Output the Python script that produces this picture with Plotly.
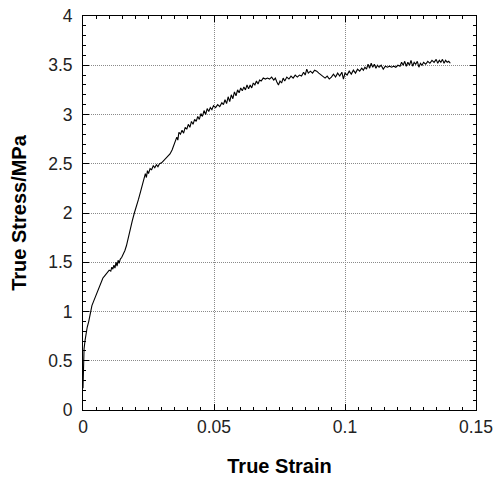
import plotly.graph_objects as go

strain = [
    0.0000, 0.0001, 0.0002, 0.0004, 0.0008, 0.0012, 0.0016, 0.0022, 0.0028, 0.0034,
    0.0040, 0.0046, 0.0052, 0.0058, 0.0064, 0.0070, 0.0076, 0.0082, 0.0088, 0.0094,
    0.0100, 0.0106, 0.0110, 0.0114, 0.0118, 0.0122, 0.0126, 0.0130, 0.0134, 0.0138,
    0.0142, 0.0148, 0.0154, 0.0160, 0.0166, 0.0172, 0.0180, 0.0188, 0.0196, 0.0204,
    0.0212, 0.0220, 0.0228, 0.0234, 0.0238, 0.0242, 0.0246, 0.0250, 0.0256, 0.0262,
    0.0268, 0.0274, 0.0280, 0.0286, 0.0292, 0.0300, 0.0308, 0.0316, 0.0324, 0.0332,
    0.0340, 0.0346, 0.0352, 0.0358, 0.0362, 0.0366, 0.0372, 0.0378, 0.0384, 0.0390,
    0.0396, 0.0402, 0.0408, 0.0414, 0.0420, 0.0426, 0.0432, 0.0438, 0.0444, 0.0450,
    0.0456, 0.0462, 0.0468, 0.0474, 0.0480, 0.0486, 0.0492, 0.0498, 0.0506, 0.0514,
    0.0522, 0.0530, 0.0536, 0.0542, 0.0548, 0.0554, 0.0560, 0.0566, 0.0572, 0.0578,
    0.0584, 0.0590, 0.0596, 0.0602, 0.0608, 0.0614, 0.0620, 0.0626, 0.0632, 0.0638,
    0.0644, 0.0650, 0.0656, 0.0662, 0.0668, 0.0674, 0.0680, 0.0688, 0.0696, 0.0704,
    0.0712, 0.0720, 0.0728, 0.0734, 0.0740, 0.0746, 0.0752, 0.0758, 0.0764, 0.0770,
    0.0778, 0.0786, 0.0794, 0.0802, 0.0810, 0.0818, 0.0826, 0.0834, 0.0842, 0.0848,
    0.0854, 0.0860, 0.0868, 0.0876, 0.0884, 0.0892, 0.0900, 0.0908, 0.0916, 0.0924,
    0.0932, 0.0940, 0.0948, 0.0956, 0.0964, 0.0972, 0.0980, 0.0988, 0.0994, 0.1000,
    0.1008, 0.1016, 0.1024, 0.1032, 0.1040, 0.1048, 0.1056, 0.1064, 0.1070, 0.1076,
    0.1082, 0.1088, 0.1094, 0.1100, 0.1106, 0.1112, 0.1118, 0.1124, 0.1130, 0.1138,
    0.1146, 0.1154, 0.1162, 0.1170, 0.1178, 0.1186, 0.1194, 0.1202, 0.1210, 0.1216,
    0.1222, 0.1228, 0.1234, 0.1240, 0.1246, 0.1252, 0.1258, 0.1264, 0.1270, 0.1276,
    0.1282, 0.1288, 0.1294, 0.1300, 0.1308, 0.1316, 0.1324, 0.1332, 0.1340, 0.1348,
    0.1354, 0.1360, 0.1366, 0.1372, 0.1378, 0.1384, 0.1390, 0.1396, 0.1402,
]
stress = [
    0.22, 0.40, 0.52, 0.62, 0.71, 0.78, 0.84, 0.90, 0.99, 1.06,
    1.10, 1.14, 1.19, 1.24, 1.28, 1.30, 1.34, 1.36, 1.38, 1.40,
    1.42, 1.41, 1.45, 1.43, 1.47, 1.44, 1.50, 1.46, 1.52, 1.49,
    1.53, 1.55, 1.58, 1.62, 1.67, 1.73, 1.82, 1.92, 2.00, 2.06,
    2.14, 2.22, 2.29, 2.34, 2.40, 2.36, 2.43, 2.40, 2.45, 2.44,
    2.48, 2.46, 2.49, 2.47, 2.50, 2.51, 2.53, 2.55, 2.58, 2.60,
    2.64, 2.68, 2.72, 2.77, 2.74, 2.82, 2.80, 2.84, 2.81, 2.87,
    2.85, 2.90, 2.87, 2.93, 2.90, 2.95, 2.93, 2.98, 2.95, 3.01,
    2.98, 3.04, 3.00, 3.06, 3.03, 3.07, 3.05, 3.09, 3.07, 3.10,
    3.08, 3.12, 3.10, 3.15, 3.11, 3.18, 3.13, 3.20, 3.16, 3.23,
    3.19, 3.25, 3.22, 3.27, 3.24, 3.28, 3.25, 3.30, 3.26, 3.30,
    3.27, 3.32, 3.30, 3.34, 3.31, 3.35, 3.34, 3.37, 3.36, 3.37,
    3.36, 3.38, 3.35, 3.37, 3.33, 3.30, 3.34, 3.32, 3.37, 3.34,
    3.38, 3.36, 3.39, 3.37, 3.40, 3.38, 3.40, 3.39, 3.43, 3.40,
    3.46, 3.42, 3.44, 3.42, 3.45, 3.44, 3.42, 3.40, 3.38, 3.37,
    3.39, 3.36, 3.38, 3.41, 3.38, 3.42, 3.39, 3.43, 3.36, 3.42,
    3.40, 3.44, 3.41, 3.45, 3.42, 3.46, 3.44, 3.47, 3.45, 3.48,
    3.46, 3.51, 3.47, 3.52, 3.48, 3.51, 3.47, 3.50, 3.48, 3.50,
    3.46, 3.49, 3.48, 3.49, 3.48, 3.49, 3.48, 3.50, 3.49, 3.53,
    3.50, 3.54, 3.49, 3.53, 3.50, 3.55, 3.49, 3.53, 3.51, 3.54,
    3.48, 3.52, 3.50, 3.53, 3.51, 3.54, 3.52, 3.55, 3.53, 3.56,
    3.52, 3.55, 3.53, 3.56, 3.52, 3.55, 3.53, 3.54, 3.52,
]

x_ticks = [0, 0.05, 0.1, 0.15]
x_labels = ["0", "0.05", "0.1", "0.15"]
y_ticks = [0, 0.5, 1, 1.5, 2, 2.5, 3, 3.5, 4]
y_labels = ["0", "0.5", "1", "1.5", "2", "2.5", "3", "3.5", "4"]

font_family = "Liberation Sans, Arial, sans-serif"

fig = go.Figure()
fig.add_trace(go.Scatter(
    x=strain, y=stress, mode="lines",
    line=dict(color="black", width=1.1),
    showlegend=False, hoverinfo="skip",
))

axis_common = dict(
    showline=True, linecolor="black", linewidth=1, mirror="ticks",
    ticks="inside", ticklen=6, tickcolor="black", tickwidth=1,
    showgrid=True, gridcolor="#8a8a8a", gridwidth=1, griddash="1px,1px",
    zeroline=False, automargin=False,
    tickfont=dict(family=font_family, size=17.5, color="#222222"),
)

fig.update_xaxes(
    range=[0, 0.15], tickmode="array", tickvals=x_ticks, ticktext=x_labels,
    minor=dict(dtick=0.005, tick0=0, ticks="inside", ticklen=3, tickcolor="black", showgrid=False),
    ticklabelstandoff=1,
    title=dict(text="<b>True Strain</b>", font=dict(family=font_family, size=20, color="black"), standoff=22),
    **axis_common,
)
fig.update_yaxes(
    range=[0, 4], tickmode="array", tickvals=y_ticks, ticktext=y_labels,
    minor=dict(dtick=0.1, tick0=0, ticks="inside", ticklen=3, tickcolor="black", showgrid=False),
    ticklabelstandoff=6,
    title=dict(text="<b>True Stress/MPa</b>", font=dict(family=font_family, size=20, color="black"), standoff=16),
    **axis_common,
)

fig.update_layout(
    width=494, height=477,
    margin=dict(l=83, r=18, t=16, b=67),
    plot_bgcolor="white", paper_bgcolor="white",
)

fig.write_html("out.html")
